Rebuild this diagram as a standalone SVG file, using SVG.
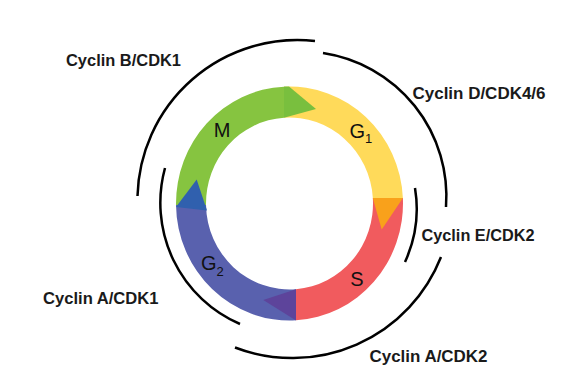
<svg xmlns="http://www.w3.org/2000/svg" width="566" height="390" viewBox="0 0 566 390">
  <style>
    .lbl { font-family: "Liberation Sans", Arial, sans-serif; font-weight: bold; font-size: 16px; fill: #1a1a1a; }
    .ph { font-family: "Liberation Sans", Arial, sans-serif; font-size: 20px; fill: #111; }
    .sub { font-size: 13px; }
    .arc { fill: none; stroke: #000; stroke-width: 2.5; stroke-linecap: butt; }
  </style>
  <rect width="566" height="390" fill="#fff"/>

  <g id="phase-M">
    <path d="M176.01,205 A113.5,117 0 0 1 284,86.64 L284,117.7 A83.5,86 0 0 0 206.01,205 Z" fill="#86C440"/>
  </g>
  <g id="phase-G1">
    <path d="M284,86.64 A113.5,117 0 0 1 402.87,198 L372.83,198 A83.5,86 0 0 0 284,117.7 Z" fill="#FFDA5A"/>
  </g>
  <g id="phase-S">
    <path d="M402.87,198 A113.5,117 0 0 1 296,320.31 L296,289.24 A83.5,86 0 0 0 372.83,198 Z" fill="#F15B5E"/>
  </g>
  <g id="phase-G2">
    <path d="M296,320.31 A113.5,117 0 0 1 176.01,205 L206.01,205 A83.5,86 0 0 0 296,289.24 Z" fill="#5961AE"/>
  </g>

  <g id="arrowheads">
    <polygon id="arrow-M" points="284,86.6 289,86.5 316,109 284,117.7" fill="#79BF3E"/>
    <polygon id="arrow-G1" points="372.8,198 402.9,198 381.7,229.5" fill="#F9A11B"/>
    <polygon id="arrow-S" points="296,289.2 296,320.4 263.3,300" fill="#5D449B"/>
    <polygon id="arrow-G2" points="176,207 207,210.5 196.7,179.5" fill="#3060AE"/>
  </g>

  <g id="phase-labels">
    <text class="ph" x="222" y="137" text-anchor="middle">M</text>
    <text class="ph" x="349.5" y="137.5">G<tspan class="sub" dy="5">1</tspan></text>
    <text class="ph" x="357" y="286" text-anchor="middle">S</text>
    <text class="ph" x="201" y="270">G<tspan class="sub" dy="5.5">2</tspan></text>
  </g>

  <g id="connectors">
    <path id="arc-cyclinB" class="arc" d="M137.5,196 A160,160 0 0 1 315,41"/>
    <path id="arc-cyclinD" class="arc" d="M323,53 A145,145 0 0 1 446,207"/>
    <path id="arc-cyclinE" class="arc" d="M415,188 A127,127 0 0 1 405,262"/>
    <path id="arc-cyclinA2" class="arc" d="M441,257 A160,160 0 0 1 235,347.5"/>
    <path id="arc-cyclinA1" class="arc" d="M165,168 A132,132 0 0 0 240,324"/>
  </g>

  <g id="label-cyclinB"><text class="lbl" x="66" y="66" textLength="115" lengthAdjust="spacingAndGlyphs">Cyclin B/CDK1</text></g>
  <g id="label-cyclinD"><text class="lbl" x="412.5" y="98.5" textLength="133" lengthAdjust="spacingAndGlyphs">Cyclin D/CDK4/6</text></g>
  <g id="label-cyclinE"><text class="lbl" x="421.5" y="241" textLength="113" lengthAdjust="spacingAndGlyphs">Cyclin E/CDK2</text></g>
  <g id="label-cyclinA1"><text class="lbl" x="43" y="303.5" textLength="115.5" lengthAdjust="spacingAndGlyphs">Cyclin A/CDK1</text></g>
  <g id="label-cyclinA2"><text class="lbl" x="369.5" y="362" textLength="118" lengthAdjust="spacingAndGlyphs">Cyclin A/CDK2</text></g>
</svg>
